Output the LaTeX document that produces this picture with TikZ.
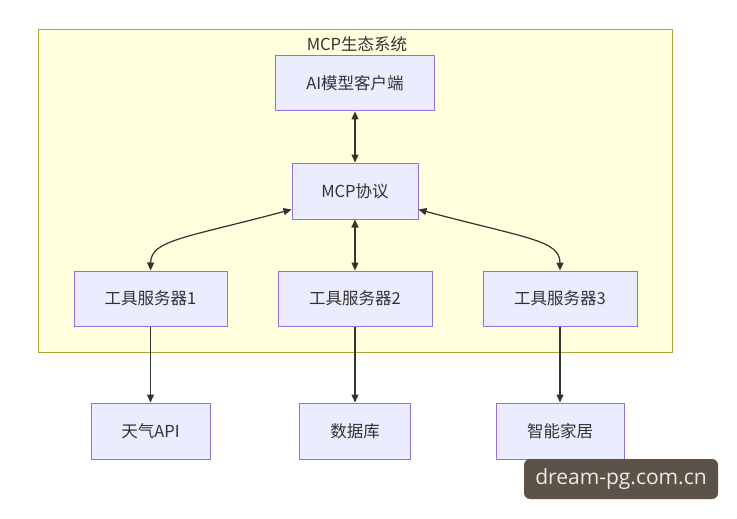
\documentclass[tikz,border=0pt]{standalone}
\usepackage{fontspec}
\setmainfont{Noto Sans CJK SC}
\newfontfamily\wmfont{Open Sans}
\usetikzlibrary{arrows.meta}
\definecolor{clfill}{HTML}{FFFFDE}
\definecolor{clline}{HTML}{AAAA33}
\definecolor{ndfill}{HTML}{ECECFF}
\definecolor{ndline}{HTML}{9370DB}
\definecolor{edgec}{HTML}{333333}
\definecolor{wmfill}{HTML}{5C5248}
\begin{document}
\begin{tikzpicture}[x=1pt,y=-1pt,
  box/.style={draw=ndline,fill=ndfill,line width=1pt,minimum height=55pt,inner sep=0pt,text=edgec,font=\fontsize{16.5}{19}\selectfont},
  link/.style={draw=edgec,line width=1.2pt,-{Triangle[length=8pt,width=7pt]}},
  both/.style={draw=edgec,line width=1.2pt,{Triangle[length=8pt,width=7pt]}-{Triangle[length=8pt,width=7pt]}}]
\useasboundingbox[fill=white] (0,0) rectangle (737,519);
\node[draw=clline,fill=clfill,line width=1pt,minimum width=634pt,minimum height=322pt,inner sep=0pt] (cl) at (355,191) {};
\node[text=edgec,font=\fontsize{16.5}{19}\selectfont] (ttl) at (357,44) {MCP生态系统};
\node[box,minimum width=159pt] (ai) at (355,83.5) {AI模型客户端};
\node[box,minimum width=126pt,minimum height=56pt] (mcp) at (355,191) {MCP协议};
\node[box,minimum width=153pt] (t1) at (150.5,298.5) {工具服务器1};
\node[box,minimum width=154pt] (t2) at (355,298.5) {工具服务器2};
\node[box,minimum width=154pt] (t3) at (560,298.5) {工具服务器3};
\node[box,minimum width=119pt,minimum height=56pt] (w) at (150.5,431) {天气API};
\node[box,minimum width=111pt,minimum height=56pt] (d) at (355,431) {数据库};
\node[box,minimum width=128pt,minimum height=56pt] (s) at (560,431) {智能家居};
\draw[both] (ai) -- (mcp);
\draw[both] (mcp) -- (t2);
\draw[both] ([yshift=10pt]mcp.south west) .. controls (185,238) and (151,240) .. (t1.north);
\draw[both] ([yshift=10pt]mcp.south east) .. controls (525,238) and (560,240) .. (t3.north);
\draw[link] (t1) -- (w);
\draw[link] (t2) -- (d);
\draw[link] (t3) -- (s);
\node[fill=wmfill,rounded corners=6pt,minimum width=194pt,minimum height=40pt,inner sep=0pt,text=white!92!black,font=\wmfont\fontsize{21}{24}\selectfont] (wm) at (621,479) {dream-pg.com.cn};
\end{tikzpicture}
\end{document}
